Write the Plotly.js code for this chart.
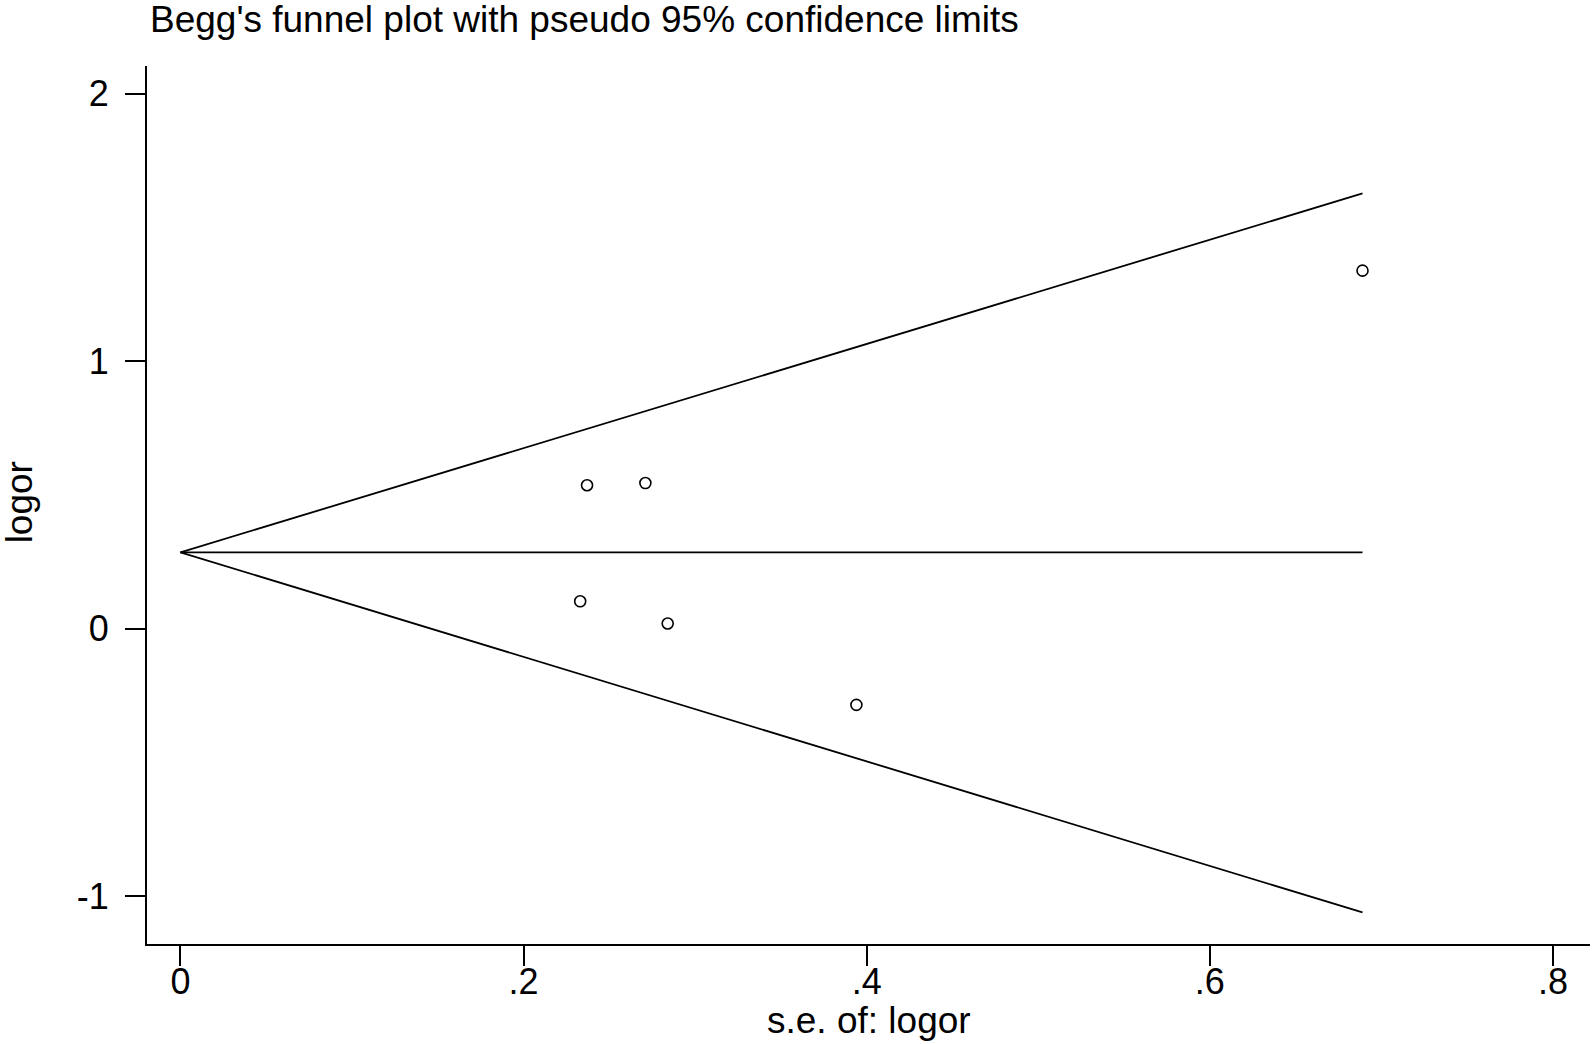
<!DOCTYPE html>
<html>
<head>
<meta charset="utf-8">
<script src="https://cdn.plot.ly/plotly-3.0.1.min.js"></script>
<style>html,body{margin:0;padding:0;background:#fff;}#chart{width:1595px;height:1044px;}</style>
</head>
<body>
<div id="chart"></div>
<script>
// Study estimates (standard error vs log odds ratio)
const se = [0.237, 0.271, 0.233, 0.284, 0.394, 0.689];
const logor = [0.536, 0.544, 0.102, 0.019, -0.285, 1.338];
// Pseudo 95% confidence limit lines
const limitSE = [0, 0.689];
const pooled = [0.285, 0.285];
const upperLimit = [0.285, 1.627];
const lowerLimit = [0.285, -1.061];
// Tick labels
const xTickVals = [0, 0.2, 0.4, 0.6, 0.8];
const xTickText = ['0', '.2', '.4', '.6', '.8'];
const yTickVals = [-1, 0, 1, 2];
const yTickText = ['-1', '0', '1', '2'];

const font = 'Liberation Sans, Arial, sans-serif';
const lineStyle = {color: '#000', width: 1.8};

const traces = [
  {x: limitSE, y: upperLimit, mode: 'lines', line: lineStyle, hoverinfo: 'skip'},
  {x: limitSE, y: pooled, mode: 'lines', line: lineStyle, hoverinfo: 'skip'},
  {x: limitSE, y: lowerLimit, mode: 'lines', line: lineStyle, hoverinfo: 'skip'},
  {x: se, y: logor, mode: 'markers',
   marker: {symbol: 'circle-open', size: 11, color: '#000', line: {width: 1.6, color: '#000'}}}
];

const layout = {
  width: 1595, height: 1044,
  paper_bgcolor: '#fff', plot_bgcolor: '#fff',
  showlegend: false,
  margin: {l: 147, r: 5, t: 66, b: 100},
  font: {family: font, color: '#000', size: 36},
  title: {text: "Begg's funnel plot with pseudo 95% confidence limits",
          font: {family: font, size: 37, color: '#000'},
          x: 150/1595, xref: 'container', xanchor: 'left',
          y: 1 - 19/1044, yref: 'container', yanchor: 'middle'},
  xaxis: {range: [-0.0195, 0.8216], tickmode: 'array', tickvals: xTickVals, ticktext: xTickText,
          showgrid: false, zeroline: false, showline: true, linecolor: '#000', linewidth: 2,
          ticks: 'outside', ticklen: 20, tickwidth: 2, tickcolor: '#000',
          ticklabelstandoff: -15,
          tickfont: {family: font, size: 36, color: '#000'},
          automargin: false},
  yaxis: {range: [-1.179, 2.103], tickmode: 'array', tickvals: yTickVals, ticktext: yTickText,
          showgrid: false, zeroline: false, showline: true, linecolor: '#000', linewidth: 2,
          ticks: 'outside', ticklen: 20, tickwidth: 2, tickcolor: '#000',
          ticklabelstandoff: 9,
          tickfont: {family: font, size: 36, color: '#000'},
          automargin: false},
  annotations: [
    {text: 's.e. of: logor', xref: 'paper', yref: 'paper', x: 0.5, y: -0.0866,
     xanchor: 'center', yanchor: 'middle', showarrow: false,
     font: {family: font, size: 37, color: '#000'}},
    {text: 'logor', xref: 'paper', yref: 'paper', x: -0.0887, y: 0.503, textangle: -90,
     xanchor: 'center', yanchor: 'middle', showarrow: false,
     font: {family: font, size: 37, color: '#000'}}
  ]
};

Plotly.newPlot('chart', traces, layout, {displayModeBar: false, staticPlot: true});
</script>
</body>
</html>
